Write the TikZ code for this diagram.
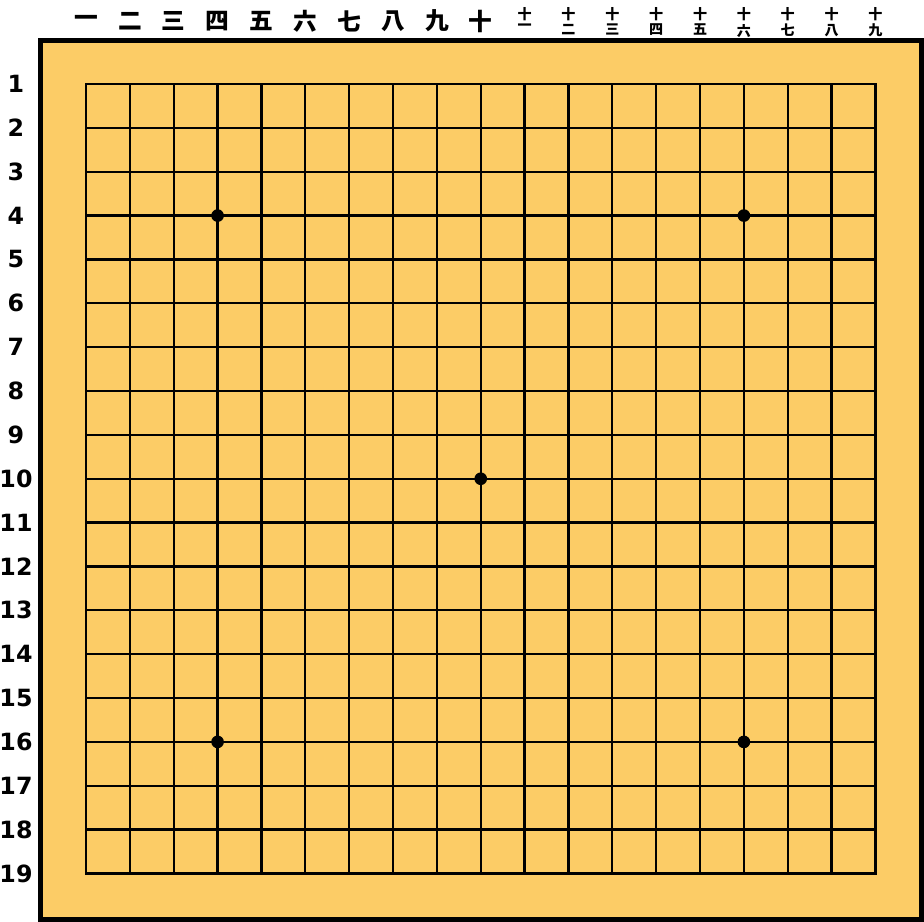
\documentclass[tikz,border=0pt]{standalone}
\usepackage{fontspec}
\setmainfont{DejaVu Sans}
\newfontfamily\jpfont{Noto Sans CJK JP}
\usetikzlibrary{positioning}
\definecolor{BoardWood}{RGB}{252,204,102}
\tikzset{
    boardframe/.style={
        draw=black,
        fill=BoardWood,
        line width=2.9pt
    },
    gridline/.style={
        draw=black,
        line width=1.3pt,
        line cap=rect
    },
    starpoint/.style={
        circle,
        fill=black,
        inner sep=0pt,
        minimum size=7.2pt
    },
    % Labels round the board
    rowlabel/.style={
        font=\fontsize{13.5}{14}\selectfont\bfseries,
        inner sep=0pt
    },
    collabel/.style={
        font=\fontsize{13.5}{14}\selectfont\jpfont\bfseries,
        inner sep=0pt
    },
    smalllabel/.style={
        font=\fontsize{8}{8}\selectfont\jpfont\bfseries,
        inner sep=0pt
    },
}

\begin{document}
\begin{tikzpicture}[x=0.02cm, y=-0.02cm]
    \useasboundingbox (0,0) rectangle (924,922);
    \draw[boardframe] (40.5,40.5) rectangle (921.5,919.5);

    % grid
    \foreach \i in {1,...,19}{
        \pgfmathsetmacro{\p}{86+(\i-1)*43.86}
        \coordinate (top-\i) at (\p,84);
        \coordinate (bot-\i) at (\p,873.5);
        \pgfmathsetmacro{\q}{84+(\i-1)*43.86}
        \coordinate (left-\i) at (86,\q);
        \coordinate (right-\i) at (875.5,\q);
        \draw[gridline] (top-\i) -- (bot-\i);
        \draw[gridline] (left-\i) -- (right-\i);
        \node[rowlabel] (row-\i) at (16,\q) {\i};
    }

    % star points
    \foreach \c/\r in {4/4, 16/4, 10/10, 4/16, 16/16}{
        \node[starpoint] (star-\c-\r) at (top-\c |- left-\r) {};
    }

    % column numbers
    \foreach \i/\k in {1/一, 2/二, 3/三, 4/四, 5/五, 6/六, 7/七, 8/八, 9/九, 10/十}{
        \node[collabel] (col-\i) at (top-\i |- 0,21) {\k};
    }
    \foreach \i/\k in {11/一, 12/二, 13/三, 14/四, 15/五, 16/六, 17/七, 18/八, 19/九}{
        \node[smalllabel] (col-\i) at (top-\i |- 0,14) {十};
        \node[smalllabel, below=1.5pt of col-\i] (col-\i-low) {\k};
    }
\end{tikzpicture}
\end{document}
